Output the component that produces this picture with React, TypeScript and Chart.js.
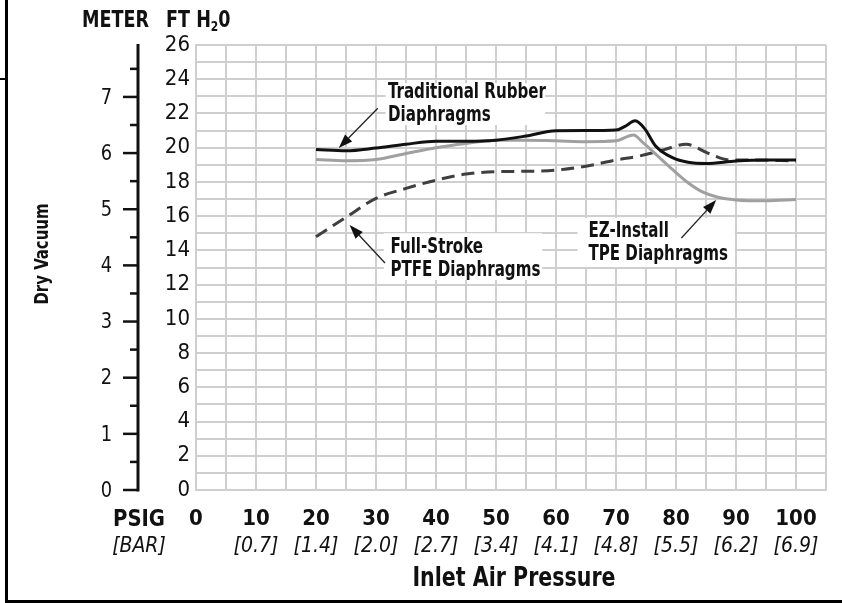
import React, { useEffect, useRef } from 'react';
import { Chart, registerables } from 'chart.js';

Chart.register(...registerables);

const FONT = "'Liberation Sans Narrow', 'DejaVu Sans Condensed', 'Arial Narrow', sans-serif";
const GRID = '#cfcfcf';
const INK = '#111111';

// x axis: PSIG with BAR equivalents
const psigMin = 0;
const psigMax = 105;
const barLabels = ['', '[0.7]', '[1.4]', '[2.0]', '[2.7]', '[3.4]', '[4.1]', '[4.8]', '[5.5]', '[6.2]', '[6.9]'];

// y axis: FT H2O, with secondary METER scale
const ftMin = 0;
const ftMax = 26;
const meterMajor = [0, 1, 2, 3, 4, 5, 6, 7];
const meterMinor = [0.5, 1.5, 2.5, 3.5, 4.5, 5.5, 6.5, 7.5];
const M_TO_FT = 3.28084;

// Traditional Rubber Diaphragms
const rubberX = [20, 25, 30, 35, 40, 45, 50, 55, 60, 65, 70, 71.5, 73.2, 74.8, 76.6, 79.5, 82, 85, 90, 95, 100];
const rubberY = [19.9, 19.82, 19.98, 20.2, 20.38, 20.38, 20.44, 20.68, 20.99, 21.0, 21.03, 21.25, 21.57, 21.1, 20.1, 19.4, 19.15, 19.08, 19.22, 19.28, 19.28];

// EZ-Install TPE Diaphragms
const tpeX = [20, 25, 30, 35, 40, 45, 50, 55, 60, 65, 70, 72.9, 74.5, 77, 79.5, 82, 84.5, 87, 90, 95, 100];
const tpeY = [19.31, 19.24, 19.31, 19.66, 20.0, 20.25, 20.44, 20.44, 20.4, 20.35, 20.4, 20.74, 20.3, 19.5, 18.7, 17.95, 17.4, 17.1, 16.95, 16.9, 16.98];

// Full-Stroke PTFE Diaphragms
const ptfeX = [20, 25, 30, 35, 40, 45, 50, 55, 60, 65, 70, 74, 78, 81.7, 85.4, 89, 92.5, 100];
const ptfeY = [14.8, 15.93, 17.04, 17.62, 18.1, 18.46, 18.6, 18.62, 18.69, 18.92, 19.28, 19.52, 19.88, 20.2, 19.67, 19.28, 19.28, 19.22];

// callouts (data coordinates)
const callouts = [
  { lines: ['Traditional Rubber', 'Diaphragms'], text: [32, 23.2, 21.85], box: [31.6, 23.77, 58.2, 21.32], from: [30.3, 22.3], to: [23.8, 19.98] },
  { lines: ['Full-Stroke', 'PTFE Diaphragms'], text: [32.4, 14.16, 12.82], box: [31.3, 15.0, 57.7, 12.27], from: [31.5, 13.26], to: [25.6, 15.48] },
  { lines: ['EZ-Install', 'TPE Diaphragms'], text: [65.4, 15.1, 13.73], box: [63.6, 15.89, 89.8, 13.03], from: [80.9, 14.72], to: [86.7, 16.94] },
];

const pts = (xs: number[], ys: number[]) => xs.map((x, i) => ({ x, y: ys[i] }));

function txt(ctx: CanvasRenderingContext2D, s: string, x: number, y: number, font: string, align: CanvasTextAlign, sx: number, baseline: CanvasTextBaseline = 'middle') {
  ctx.save();
  ctx.font = font;
  ctx.textAlign = align;
  ctx.textBaseline = baseline;
  ctx.translate(x, y);
  ctx.scale(sx, 1);
  ctx.fillText(s, 0, 0);
  const w = ctx.measureText(s).width * sx;
  ctx.restore();
  return w;
}

const overlayPlugin = {
  id: 'overlay',
  afterDraw(chart: any) {
    const ctx = chart.ctx as CanvasRenderingContext2D;
    const xs = chart.scales.x;
    const ys = chart.scales.y;
    ctx.save();

    // METER axis
    const axX = 138;
    ctx.strokeStyle = INK;
    ctx.fillStyle = INK;
    ctx.lineWidth = 3;
    ctx.beginPath();
    ctx.moveTo(axX, ys.getPixelForValue(0) + 1.5);
    ctx.lineTo(axX, ys.getPixelForValue(ftMax) - 1);
    ctx.stroke();
    ctx.lineWidth = 2.5;
    meterMajor.forEach((m) => {
      const py = ys.getPixelForValue(m * M_TO_FT);
      ctx.beginPath();
      ctx.moveTo(axX - 15, py);
      ctx.lineTo(axX, py);
      ctx.stroke();
      txt(ctx, String(m), 112, py + 1, `22px ${FONT}`, 'right', 0.9);
    });
    meterMinor.forEach((m) => {
      const py = ys.getPixelForValue(m * M_TO_FT);
      ctx.beginPath();
      ctx.moveTo(axX - 8, py);
      ctx.lineTo(axX, py);
      ctx.stroke();
    });

    // header labels
    const hf = `bold 23px ${FONT}`;
    txt(ctx, 'METER', 82, 27, hf, 'left', 0.85, 'alphabetic');
    let hx = 166;
    hx += txt(ctx, 'FT H', hx, 27, hf, 'left', 0.85, 'alphabetic');
    hx += txt(ctx, '2', hx, 31, `bold 14px ${FONT}`, 'left', 0.85, 'alphabetic');
    txt(ctx, '0', hx, 27, hf, 'left', 0.85, 'alphabetic');

    // PSIG / BAR
    txt(ctx, 'PSIG', 139, 520, `bold 23px ${FONT}`, 'center', 0.95);
    txt(ctx, '[BAR]', 139, 546, `italic 22px ${FONT}`, 'center', 0.95);

    // axis title
    txt(ctx, 'Inlet Air Pressure', 514, 579, `bold 26px ${FONT}`, 'center', 0.88);

    // Dry Vacuum
    ctx.save();
    ctx.translate(43, 254);
    ctx.rotate(-Math.PI / 2);
    txt(ctx, 'Dry Vacuum', 0, 0, `bold 20px ${FONT}`, 'center', 0.83);
    ctx.restore();

    // callouts
    callouts.forEach((c) => {
      const bx0 = xs.getPixelForValue(c.box[0]);
      const by0 = ys.getPixelForValue(c.box[1]);
      const bx1 = xs.getPixelForValue(c.box[2]);
      const by1 = ys.getPixelForValue(c.box[3]);
      ctx.fillStyle = '#ffffff';
      ctx.fillRect(bx0, by0, bx1 - bx0, by1 - by0);
      ctx.fillStyle = INK;
      const tx = xs.getPixelForValue(c.text[0]);
      const cf = `bold 21px ${FONT}`;
      txt(ctx, c.lines[0], tx, ys.getPixelForValue(c.text[1]), cf, 'left', 0.8);
      txt(ctx, c.lines[1], tx, ys.getPixelForValue(c.text[2]), cf, 'left', 0.8);
      // arrow
      const fx = xs.getPixelForValue(c.from[0]);
      const fy = ys.getPixelForValue(c.from[1]);
      const ex = xs.getPixelForValue(c.to[0]);
      const ey = ys.getPixelForValue(c.to[1]);
      const ang = Math.atan2(ey - fy, ex - fx);
      const hl = 14;
      const hw = 5;
      const bx = ex - hl * Math.cos(ang);
      const by = ey - hl * Math.sin(ang);
      ctx.strokeStyle = '#222';
      ctx.lineWidth = 1.3;
      ctx.beginPath();
      ctx.moveTo(fx, fy);
      ctx.lineTo(bx, by);
      ctx.stroke();
      ctx.beginPath();
      ctx.moveTo(ex, ey);
      ctx.lineTo(bx + hw * Math.sin(ang), by - hw * Math.cos(ang));
      ctx.lineTo(bx - hw * Math.sin(ang), by + hw * Math.cos(ang));
      ctx.closePath();
      ctx.fill();
    });

    ctx.restore();
  },
};

export default function App() {
  const ref = useRef<HTMLCanvasElement | null>(null);

  useEffect(() => {
    if (!ref.current) return;
    const chart = new Chart(ref.current, {
      type: 'line',
      data: {
        datasets: [
          { label: 'Traditional Rubber Diaphragms', data: pts(rubberX, rubberY), borderColor: '#111111', borderWidth: 3, pointRadius: 0, cubicInterpolationMode: 'monotone', order: 0 },
          { label: 'EZ-Install TPE Diaphragms', data: pts(tpeX, tpeY), borderColor: '#a0a0a0', borderWidth: 3, pointRadius: 0, cubicInterpolationMode: 'monotone', order: 1 },
          { label: 'Full-Stroke PTFE Diaphragms', data: pts(ptfeX, ptfeY), borderColor: '#3f3f3f', borderWidth: 3, borderDash: [13, 7], pointRadius: 0, cubicInterpolationMode: 'monotone', order: 2 },
        ],
      } as any,
      options: {
        responsive: false,
        animation: false,
        devicePixelRatio: 1,
        layout: { padding: { top: 45, right: 2, left: 0, bottom: 0 } },
        plugins: { legend: { display: false }, tooltip: { enabled: false } },
        scales: {
          x: {
            type: 'linear', position: 'bottom', min: psigMin, max: psigMax,
            afterFit: (s: any) => { s.height = 40; },
            grid: { color: GRID, lineWidth: 2, drawTicks: false },
            border: { color: GRID, width: 2 },
            ticks: {
              stepSize: 5, autoSkip: false, maxRotation: 0, minRotation: 0, padding: 16, color: INK,
              font: { family: FONT, size: 22, weight: 'bold' },
              callback: (v: any) => { const n = Math.round(Number(v)); return n % 10 === 0 && n <= 100 ? String(n) : ''; },
            },
          },
          x2: {
            type: 'linear', position: 'bottom', min: psigMin, max: psigMax,
            afterFit: (s: any) => { s.height = 73; },
            grid: { display: false, drawTicks: false },
            border: { display: false },
            ticks: {
              stepSize: 5, autoSkip: false, maxRotation: 0, minRotation: 0, padding: 4, color: INK,
              font: { family: FONT, size: 21, style: 'italic' },
              callback: (v: any) => { const n = Math.round(Number(v)); return n % 10 === 0 && n <= 100 ? barLabels[n / 10] : ''; },
            },
          },
          y: {
            type: 'linear', position: 'left', min: ftMin, max: ftMax,
            afterFit: (s: any) => { s.width = 196; },
            grid: { color: GRID, lineWidth: 2, drawTicks: false },
            border: { color: GRID, width: 2 },
            ticks: {
              stepSize: 1, autoSkip: false, padding: 6, color: INK,
              font: { family: FONT, size: 22 },
              callback: (v: any) => { const n = Math.round(Number(v)); return n % 2 === 0 ? String(n) : ''; },
            },
          },
        },
      } as any,
      plugins: [overlayPlugin],
    });
    return () => chart.destroy();
  }, []);

  return (
    <div style={{ position: 'fixed', left: 0, top: 0, width: 842, height: 603, background: '#fff', overflow: 'hidden' }}>
      <canvas ref={ref} width={842} height={603} style={{ position: 'absolute', left: 0, top: 0 }} />
      <div style={{ position: 'absolute', left: 5, top: 0, width: 3, height: 603, background: '#000' }} />
      <div style={{ position: 'absolute', left: 0, top: 78, width: 6, height: 2, background: '#000' }} />
      <div style={{ position: 'absolute', left: 5, top: 600, width: 837, height: 3, background: '#000' }} />
    </div>
  );
}
